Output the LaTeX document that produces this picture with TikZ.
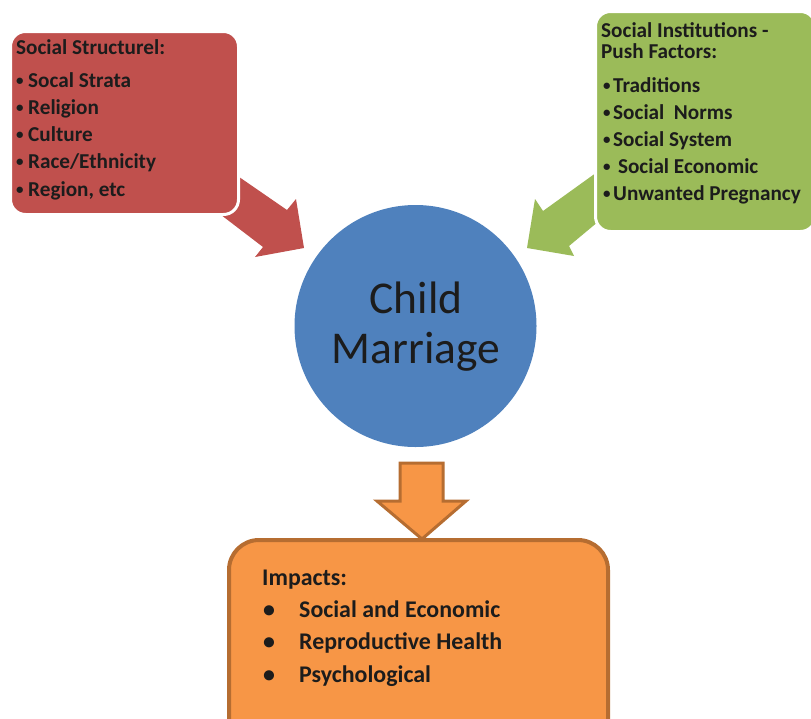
\documentclass[tikz,border=0pt]{standalone}
\usepackage{fontspec}
\setmainfont{Carlito}
\usetikzlibrary{positioning}

\definecolor{strucred}{HTML}{C0504D}
\definecolor{pushgreen}{HTML}{9BBB59}
\definecolor{childblue}{HTML}{4F81BD}
\definecolor{impactorange}{HTML}{F79646}
\definecolor{impactline}{HTML}{B66D31}
\definecolor{inktext}{HTML}{1C1C1C}

\tikzset{
    listbox/.style={rectangle, rounded corners=15pt, draw=white, line width=3pt, anchor=north west, inner sep=0pt},
    listtext/.style={inner sep=0pt, anchor=base west, text=inktext, font=\bfseries\fontsize{21.2}{25}\selectfont},
    listdot/.style={listtext, font=\bfseries\fontsize{15}{18}\selectfont},
    impacttext/.style={listtext, font=\bfseries\fontsize{23.9}{28}\selectfont},
    bigtext/.style={inner sep=0pt, anchor=base, text=inktext, font=\fontsize{45.5}{52}\selectfont},
}

\begin{document}
\begin{tikzpicture}[x=1pt, y=-1pt]
    \useasboundingbox (0,0) rectangle (811,718);

    % block arrows, drawn first so the boxes sit on top
    \fill[strucred] (229,170) -- (287,210) -- (296,199) -- (304,248) -- (255,257)
        -- (263,247) -- (212,208) -- cycle;
    \fill[pushgreen] (600,170) -- (543,211) -- (535,199) -- (527,248) -- (574,256)
        -- (569,246) -- (605,216) -- cycle;
    \filldraw[fill=impactorange, draw=impactline, line width=3pt, miter limit=10]
        (400,463) -- (443,463) -- (443,501) -- (466,501) -- (422,539)
        -- (377,501) -- (400,501) -- cycle;

    % social structure box
    \node[listbox, fill=strucred, minimum width=228pt, minimum height=183pt] (structure) at (9,30) {};
    \node[listtext] (structurehead) at (16,54) {Social Structurel:};
    \foreach \item [count=\i] in {Socal Strata, Religion, Culture, Race/Ethnicity, {Region, etc}} {
        \node[listdot] (structuredot-\i) at (16,{85+(\i-1)*27.3}) {•};
        \node[listtext] (structure-\i) at (28,{87+(\i-1)*27.3}) {\item};
    }

    % push factors box
    \node[listbox, fill=pushgreen, minimum width=220pt, minimum height=220pt] (push) at (594,10) {};
    \node[listtext] (pushhead) at (601,37) {Social Institutions -};
    \node[listtext] (pushhead2) at (601,58) {Push Factors:};
    \foreach \item [count=\i] in {Traditions, Social~~Norms, Social System, \ Social Economic, Unwanted Pregnancy} {
        \node[listdot] (pushdot-\i) at (603,{90+(\i-1)*27}) {•};
        \node[listtext] (push-\i) at (613,{92+(\i-1)*27}) {\item};
    }

    % centre circle
    \node[circle, fill=childblue, minimum size=242pt, inner sep=0pt] (child) at (415.5,326) {};
    \node[bigtext] (childword) at (416,313) {Child};
    \node[bigtext] (marriageword) at (416,363) {Marriage};

    % impacts box
    \draw[fill=impactorange, draw=impactline, line width=4pt, rounded corners=30pt]
        (229,540) rectangle (608,760);
    \node[impacttext] (impacthead) at (262,585) {Impacts:};
    \foreach \item [count=\i] in {Social and Economic, Reproductive Health, Psychological} {
        \node[impacttext] (impactdot-\i) at (263,{617+(\i-1)*32.5}) {•};
        \node[impacttext] (impact-\i) at (299,{617+(\i-1)*32.5}) {\item};
    }
\end{tikzpicture}
\end{document}
